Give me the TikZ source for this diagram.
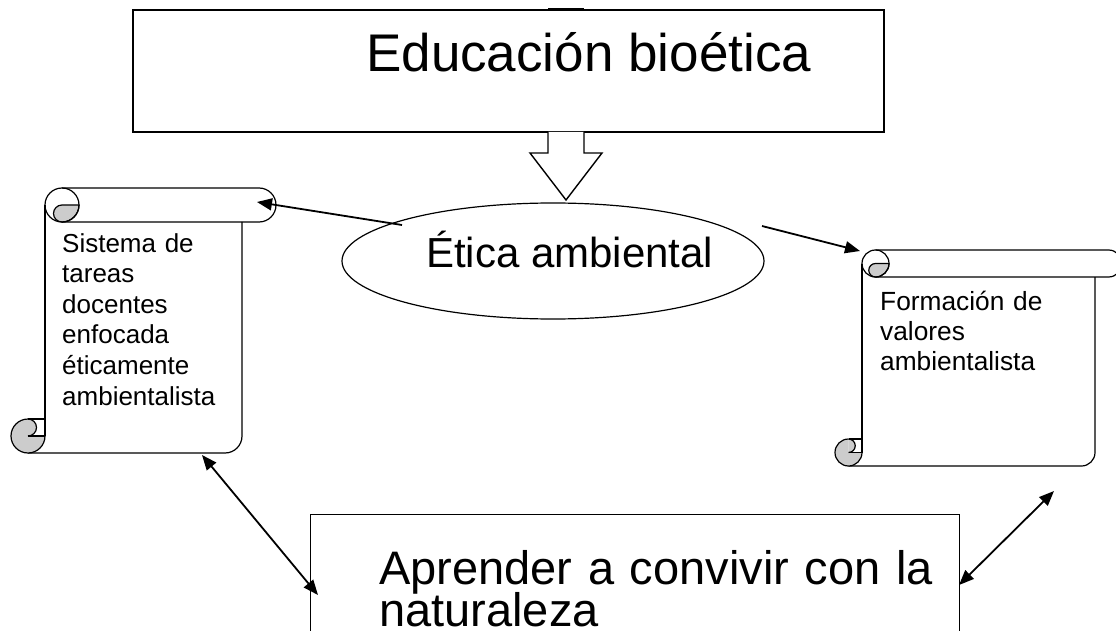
\documentclass[tikz,border=0pt]{standalone}
\usepackage{fontspec}
\setmainfont{Liberation Sans}
\usetikzlibrary{arrows.meta,shapes.geometric}
\definecolor{curlgray}{RGB}{204,204,204}
\tikzset{
  boxline/.style={draw=black,line width=1.4pt},
  scrl/.style={draw=black,line width=1.2pt,line join=round},
  conn/.style={draw=black,line width=1.8pt,-{Triangle[length=15pt,width=12pt]}},
  dconn/.style={draw=black,line width=1.8pt,{Triangle[length=15pt,width=12pt]}-{Triangle[length=15pt,width=12pt]}},
}
\newcommand\myscroll[5]{%
  \pgfmathsetmacro\sL{#1}%
  \pgfmathsetmacro\sT{#2}%
  \pgfmathsetmacro\sR{#3}%
  \pgfmathsetmacro\sB{#4}%
  \pgfmathsetmacro\sC{#5}%
  \pgfmathsetmacro\sH{#5/2}%
  \pgfmathsetmacro\sQ{#5/4}%
  % body edges
  \draw[scrl] (\sL,\sT+\sH) -- (\sL,\sB-\sH);
  \draw[scrl] (\sL-\sH,\sB) -- (\sR-\sH,\sB) arc[start angle=90,end angle=0,radius=\sH] -- (\sR,\sT+\sC);
  % top roll
  \draw[scrl] (\sL+\sH,\sT) -- (\sR+\sH,\sT) arc[start angle=270,end angle=450,radius=\sH] -- (\sL+\sH,\sT+\sC);
  % top curl
  \filldraw[scrl,fill=curlgray] (\sL+\sH,\sT+\sH) -- (\sL+\sC,\sT+\sH) arc[start angle=0,end angle=90,radius=\sH] arc[start angle=90,end angle=270,radius=\sQ] -- cycle;
  \draw[scrl] (\sL+\sH,\sT+\sH) circle[radius=\sH];
  % bottom curl
  \fill[curlgray] (\sL-\sH,\sB-\sH) -- (\sL-\sH,\sB-\sC) arc[start angle=270,end angle=0,radius=\sH] -- cycle;
  \fill[curlgray] (\sL-\sH,\sB-\sC) arc[start angle=270,end angle=450,radius=\sQ] -- cycle;
  \draw[scrl] (\sL-\sH,\sB-\sC) arc[start angle=270,end angle=0,radius=\sH];
  \draw[scrl] (\sL-\sH,\sB-\sC) -- (\sL,\sB-\sC);
  \draw[scrl] (\sL-\sH,\sB-\sH) -- (\sL,\sB-\sH);
  \draw[scrl] (\sL-\sH,\sB-\sC) arc[start angle=270,end angle=450,radius=\sQ];
}
\begin{document}
\begin{tikzpicture}[x=1pt,y=-1pt]
\useasboundingbox (0,0) rectangle (1116,631);
\clip (0,0) rectangle (1116,631);
\fill[white] (0,0) rectangle (1116,631);

% top box
\node[boxline,rectangle,inner sep=0pt,minimum width=751pt,minimum height=122pt] (edu) at (508.5,71) {};
\node[anchor=base west,inner sep=0pt,font={\fontsize{53}{60}\selectfont}] (edut) at (366,72) {Educación bioética};
\draw[line width=2.6pt] (548,9.3) -- (584,9.3);

% block arrow
\filldraw[boxline,fill=white,line join=miter] (548,132) -- (548,153) -- (530,153) -- (566,200) -- (602,153) -- (584,153) -- (584,132);

% ellipse
\node[ellipse,draw=black,line width=1.2pt,inner sep=0pt,minimum width=422pt,minimum height=116pt] (eth) at (553,261) {};
\node[anchor=base west,inner sep=0pt,font={\fontsize{42}{48}\selectfont}] (etht) at (426,267) {Ética ambiental};

% scrolls
\myscroll{45}{188}{242}{453}{34}
\myscroll{862}{250}{1095}{466}{27}
\node[anchor=base west,inner sep=0pt,text width=180pt,align=left,font={\fontsize{26}{30.6}\selectfont}] (s1t) at (62,252)
  {Sistema de\\tareas\\docentes\\enfocada\\éticamente\\ambientalista};
\node[anchor=base west,inner sep=0pt,text width=200pt,align=left,font={\fontsize{26.3}{30}\selectfont}] (s2t) at (880,310.5)
  {Formación de\\valores\\ambientalista};

% bottom box
\node[boxline,rectangle,anchor=north west,inner sep=0pt,minimum width=649pt,minimum height=140pt] (apr) at (310,514) {};
\node[anchor=base west,inner sep=0pt,text width=600pt,align=left,font={\fontsize{47}{42.5}\selectfont}] (aprt) at (379,584)
  {\smash{Aprender a convivir con la}\\\smash{naturaleza}};

% connector end points
\coordinate (c1a) at (402,225);
\coordinate (c1b) at (257,202);
\coordinate (c2a) at (762,226);
\coordinate (c2b) at (860,251);
\coordinate (c3a) at (202,455);
\coordinate (c3b) at (318,595);
\coordinate (c4a) at (1054,491);
\coordinate (c4b) at (959,585);

\draw[conn] (c1a) -- (c1b);
\draw[conn] (c2a) -- (c2b);
\draw[dconn] (c3a) -- (c3b);
\draw[dconn] (c4a) -- (c4b);
\end{tikzpicture}
\end{document}
